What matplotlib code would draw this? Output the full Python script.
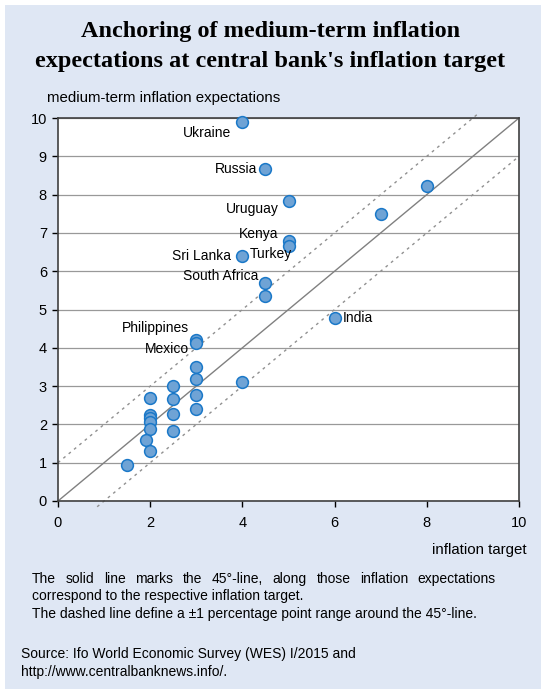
import matplotlib.pyplot as plt
from matplotlib.patches import Rectangle

# datos
objetivo = [4, 4.5, 5, 5, 5, 4, 4.5, 4.5, 6, 8, 7, 3, 3, 3, 3, 3, 3, 4,
            2.5, 2.5, 2.5, 2.5, 2, 2, 2, 2, 2, 1.9, 2, 1.5]
expectativas = [9.89, 8.67, 7.83, 6.80, 6.66, 6.40, 5.69, 5.34, 4.78, 8.22, 7.50,
                4.20, 4.13, 3.49, 3.19, 2.77, 2.40, 3.12,
                3.01, 2.66, 2.27, 1.83, 2.70, 2.24, 2.16, 2.07, 1.88, 1.58, 1.30, 0.93]
# nombre, indice del punto, desplazamiento del texto (px), alineacion
etiquetas = [
    ('Ukraine', 0, (-11, -11), 'right'),
    ('Russia', 1, (-8, 0), 'right'),
    ('Uruguay', 2, (-10, -8), 'right'),
    ('Kenya', 3, (-10, 7), 'right'),
    ('Turkey', 4, (3, -8), 'right'),
    ('Sri Lanka', 5, (-11, 0), 'right'),
    ('South Africa', 6, (-7, 7), 'right'),
    ('India', 8, (8, 0), 'left'),
    ('Philippines', 11, (-7, 12), 'right'),
    ('Mexico', 12, (-7, -6), 'right'),
]
ticks = list(range(0, 11, 2))
ticks_y = list(range(0, 11))

titulo1 = "Anchoring of medium-term inflation"
titulo2 = "expectations at central bank's inflation target"
nota1 = "The solid line marks the 45°-line, along those inflation expectations correspond to the respective inflation target."
nota2 = "The dashed line define a \u00b11 percentage point range around the 45°-line."
fuente = "Source: Ifo World Economic Survey (WES) I/2015 and\nhttp://www.centralbanknews.info/."

plt.rcParams['font.family'] = ['Liberation Sans', 'DejaVu Sans']
W, H = 541, 689
fig = plt.figure(figsize=(W / 100, H / 100), dpi=100, facecolor='white')
fig.patches.append(Rectangle((5 / W, 0), 1 - 5 / W, 1 - 5 / H, transform=fig.transFigure,
                             facecolor='#dfe7f4', edgecolor='none', zorder=-10))

ax = fig.add_axes([58 / W, 1 - 501 / H, (519 - 58) / W, (501 - 118) / H])
ax.set_facecolor('white')
ax.set_xlim(0, 10)
ax.set_ylim(0, 10)
ax.set_xticks(ticks)
ax.set_yticks(ticks_y)
ax.tick_params(direction='out', length=4, width=1, labelsize=10.5, colors='black', pad=4)
ax.tick_params(axis='x', pad=7)
for s in ax.spines.values():
    s.set_color('#404040')
    s.set_linewidth(1.2)
ax.grid(axis='y', color='#999999', linewidth=0.9)
ax.set_axisbelow(True)

# linea de 45 grados y rango +-1
ax.plot([0, 10], [0, 10], color='#808080', linewidth=1, zorder=2)
ax.plot([0, 9.12], [1, 10.12], color='#909090', linewidth=1, linestyle=(0, (2, 3)), clip_on=False, zorder=2)
ax.plot([0.85, 10], [-0.15, 9], color='#909090', linewidth=1, linestyle=(0, (2, 3)), clip_on=False, zorder=2)

ax.scatter(objetivo, expectativas, s=72, facecolor='#6fa3d5', edgecolor='#1a78c8',
           linewidth=1.1, zorder=3, clip_on=False)

for nombre, i, off, ha in etiquetas:
    ax.annotate(nombre, (objetivo[i], expectativas[i]), xytext=off, textcoords='offset pixels',
                ha=ha, va='center', fontsize=10, zorder=4)

fig.text(0.5, 1 - 32 / H, titulo1, ha='center', va='center', fontsize=17.5, fontweight='bold',
         family=['Liberation Serif'])
fig.text(0.5, 1 - 62 / H, titulo2, ha='center', va='center', fontsize=17.5, fontweight='bold',
         family=['Liberation Serif'])
fig.text(47 / W, 1 - 98 / H, 'medium-term inflation expectations', ha='left', va='center', fontsize=10.8)
fig.text(527 / W, 1 - 550 / H, 'inflation target', ha='right', va='center', fontsize=10.8)

# primera linea justificada
fig.canvas.draw()
r = fig.canvas.get_renderer()
palabras = nota1.split(' ')
linea1 = palabras[:10]
resto = ' '.join(palabras[10:])
anchos = []
for p in linea1:
    t = fig.text(0, 0, p, fontsize=10)
    anchos.append(t.get_window_extent(r).width)
    t.remove()
x0, x1 = 32, 496
hueco = (x1 - x0 - sum(anchos)) / (len(linea1) - 1)
x = x0
for p, w in zip(linea1, anchos):
    fig.text(x / W, 1 - 579 / H, p, ha='left', va='center', fontsize=10)
    x += w + hueco
fig.text(x0 / W, 1 - 596 / H, resto, ha='left', va='center', fontsize=10)
fig.text(x0 / W, 1 - 614 / H, nota2, ha='left', va='center', fontsize=10)
fig.text(21 / W, 1 - 663 / H, fuente, ha='left', va='center', fontsize=10, linespacing=1.4)

fig.savefig('out.png', dpi=100, facecolor=fig.get_facecolor())
